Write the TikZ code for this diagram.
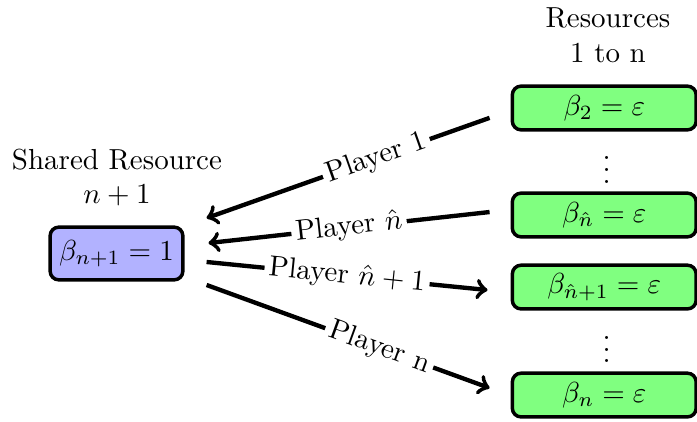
\documentclass[tikz,border=0pt]{standalone}
\usepackage{amsmath,amssymb}
\usepackage{xcolor}

\begin{document}
\begin{tikzpicture}
    \tikzset{
        shared/.style={draw, very thick, rounded corners=3pt, fill=blue!30,
            minimum width=1.61cm, minimum height=0.64cm, inner sep=2pt},
        res/.style={draw, very thick, rounded corners=3pt, fill=green!50,
            minimum width=2.23cm, minimum height=0.53cm, inner sep=2pt},
        player/.style={line width=1.5pt},
        lbl/.style={sloped, fill=white, inner sep=1.5pt}
    }
    \useasboundingbox (0,0) rectangle (8.455,5.107);

    % Shared resource
    \node[shared] (sh) at (1.413,2.032) {$\beta_{n+1} = 1$};
    \node[align=center] (shlabel) at (1.419,2.954) {Shared Resource\\$n+1$};

    % Resources 1 to n
    \node[align=center] (reslabel) at (7.375,4.676) {Resources\\1 to n};
    \node[res] (r2) at (7.33,3.797) {$\beta_2 = \varepsilon$};
    \node[res] (rh) at (7.33,2.499) {$\beta_{\hat{n}} = \varepsilon$};
    \node[res] (rh1) at (7.33,1.625) {$\beta_{\hat{n}+1} = \varepsilon$};
    \node[res] (rn) at (7.33,0.315) {$\beta_n = \varepsilon$};
    \node (dots1) at (7.36,3.15) {$\vdots$};
    \node (dots2) at (7.36,0.97) {$\vdots$};

    % Players
    \draw[player,<-] ([shift={(0.267,0.43)}]sh.east) --
        node[pos=0.6,lbl] {Player 1} ([shift={(-0.255,-0.12)}]r2.west);
    \draw[player,<-] ([shift={(0.29,0.127)}]sh.east) --
        node[pos=0.5,lbl] {Player $\hat{n}$} ([shift={(-0.255,0.036)}]rh.west);
    \draw[player,->] ([shift={(0.267,-0.103)}]sh.east) --
        node[pos=0.5,lbl] {Player $\hat{n}+1$} ([shift={(-0.28,-0.036)}]rh1.west);
    \draw[player,->] ([shift={(0.267,-0.382)}]sh.east) --
        node[pos=0.61,lbl] {Player n} ([shift={(-0.255,0.085)}]rn.west);
\end{tikzpicture}
\end{document}
